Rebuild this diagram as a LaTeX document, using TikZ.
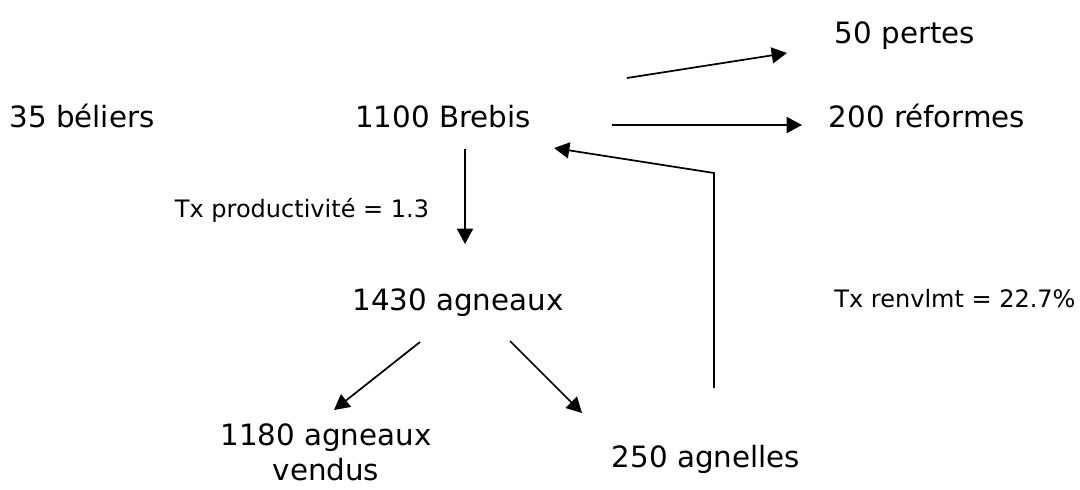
\documentclass[tikz,border=0pt]{standalone}
\usepackage{fontspec}
\setmainfont{DejaVu Sans}
\usetikzlibrary{arrows.meta}
\tikzstyle{stock}=[inner sep=0pt,anchor=base,font=\fontsize{22}{26}\selectfont,align=center]
\tikzstyle{rate}=[inner sep=0pt,anchor=base,font=\fontsize{18}{22}\selectfont]
\tikzstyle{flow}=[-{Triangle[length=11.5pt,width=12pt]},line width=1.3pt]

\begin{document}
\begin{tikzpicture}[x=0.75pt,y=-0.75pt]
\useasboundingbox (0,0) rectangle (1080,489);
\node[stock] at (82, 127) (beliers) {35 béliers};
\node[stock] at (443, 127) (brebis) {1100 Brebis};
\node[stock] at (905, 43) (pertes) {50 pertes};
\node[stock] at (927, 127) (reformes) {200 réformes};
\node[rate] at (302, 217) (prod) {Tx productivité = 1.3};
\node[stock] at (458, 310) (agneaux) {1430 agneaux};
\node[rate] at (955, 307) (renouv) {Tx renvlmt = 22.7\%};
\node[stock] at (326, 480) (vendus) {1180 agneaux\\vendus};
\node[stock] at (706, 467) (agnelles) {250 agnelles};
\coordinate (p1) at (627, 78);
\coordinate (p2) at (787, 53);
\coordinate (r1) at (612, 125);
\coordinate (r2) at (802, 125);
\coordinate (b1) at (465, 149);
\coordinate (b2) at (465, 244);
\coordinate (v1) at (420, 342);
\coordinate (v2) at (334, 410);
\coordinate (g1) at (510, 341);
\coordinate (g2) at (582, 413);
\coordinate (n1) at (714, 388);
\coordinate (n2) at (714, 173);
\coordinate (n3) at (554, 148);
\draw[flow] (p1) -- (p2);
\draw[flow] (r1) -- (r2);
\draw[flow] (b1) -- (b2);
\draw[flow] (v1) -- (v2);
\draw[flow] (g1) -- (g2);
\draw[flow] (n1) -- (n2) -- (n3);
\end{tikzpicture}
\end{document}
